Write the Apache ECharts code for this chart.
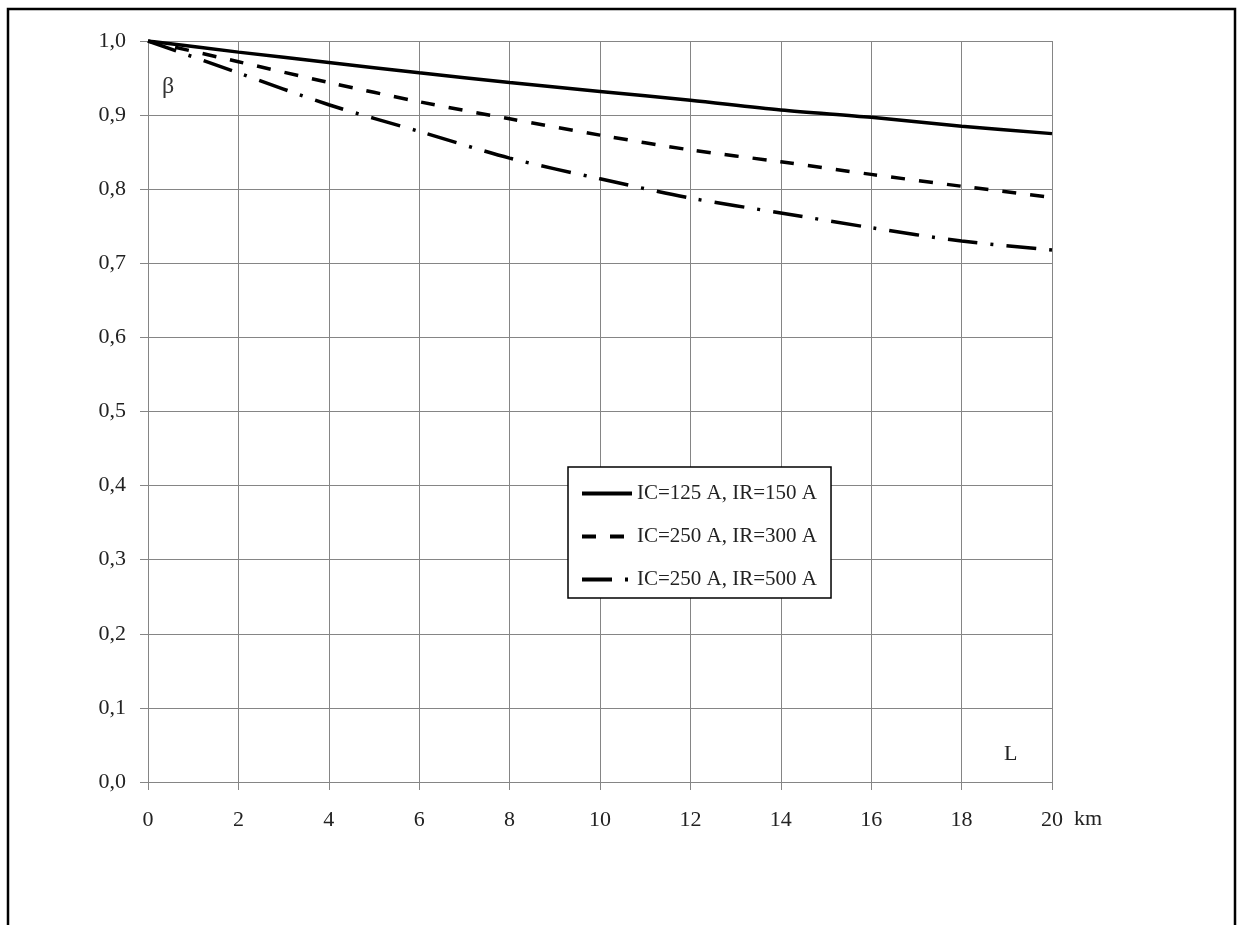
<!DOCTYPE html>
<html>
<head>
<meta charset="utf-8">
<script src="https://cdn.jsdelivr.net/npm/echarts@6/dist/echarts.min.js"></script>
<style>html,body{margin:0;padding:0;background:#fff;}#c{width:1237px;height:925px;}</style>
</head>
<body>
<div id="c"></div>
<script>
const distances = [0, 2, 4, 6, 8, 10, 12, 14, 16, 18, 20];
const seriesNames = ['IC=125 A, IR=150 A', 'IC=250 A, IR=300 A', 'IC=250 A, IR=500 A'];
const beta125_150 = [1.0, 0.985, 0.971, 0.957, 0.944, 0.932, 0.920, 0.907, 0.897, 0.885, 0.875];
const beta250_300 = [1.0, 0.972, 0.944, 0.918, 0.895, 0.873, 0.853, 0.837, 0.820, 0.804, 0.789];
const beta250_500 = [1.0, 0.957, 0.914, 0.878, 0.842, 0.814, 0.788, 0.768, 0.748, 0.730, 0.718];

const FONT = '"Liberation Serif", "DejaVu Serif", serif';
const pairs = arr => distances.map((d, i) => [d, arr[i]]);

const chart = echarts.init(document.getElementById('c'), null, {renderer: 'canvas'});
const lineBase = {type: 'line', symbol: 'none', smooth: 0.3, silent: true, animation: false};
chart.setOption({
  backgroundColor: '#fff',
  animation: false,
  grid: {left: 148, right: 185, top: 41, bottom: 143, containLabel: false},
  xAxis: {
    type: 'value', min: 0, max: 20, interval: 2,
    axisLine: {show: true, lineStyle: {color: '#858585', width: 1}},
    axisTick: {show: true, length: 8, lineStyle: {color: '#858585'}},
    splitLine: {show: true, lineStyle: {color: '#858585', width: 1}},
    axisLabel: {margin: 27, color: '#222', fontFamily: FONT, fontSize: 22}
  },
  yAxis: {
    type: 'value', min: 0, max: 1, interval: 0.1,
    axisLine: {show: true, lineStyle: {color: '#858585', width: 1}},
    axisTick: {show: true, length: 8, lineStyle: {color: '#858585'}},
    splitLine: {show: true, lineStyle: {color: '#858585', width: 1}},
    axisLabel: {margin: 22, color: '#222', fontFamily: FONT, fontSize: 22,
      formatter: v => v.toFixed(1).replace('.', ',')}
  },
  legend: {
    orient: 'vertical', left: 568, top: 467,
    backgroundColor: '#fff', borderColor: '#000', borderWidth: 1.5,
    padding: [16, 14, 8, 12], itemGap: 22, itemWidth: 50, itemHeight: 14,
    itemStyle: {opacity: 0},
    lineStyle: {width: 4, color: '#000'},
    textStyle: {fontFamily: FONT, fontSize: 21, color: '#222'},
    data: seriesNames
  },
  series: [
    Object.assign({}, lineBase, {name: seriesNames[0], data: pairs(beta125_150),
      lineStyle: {color: '#000', width: 3.5, type: 'solid'}, itemStyle: {color: '#000'}}),
    Object.assign({}, lineBase, {name: seriesNames[1], data: pairs(beta250_300),
      lineStyle: {color: '#000', width: 3.5, type: [14, 14], cap: 'butt'}, itemStyle: {color: '#000'}}),
    Object.assign({}, lineBase, {name: seriesNames[2], data: pairs(beta250_500),
      lineStyle: {color: '#000', width: 3.5, type: [30, 13, 3, 13], cap: 'butt'}, itemStyle: {color: '#000'}})
  ],
  graphic: [
    {type: 'rect', shape: {x: 8, y: 9, width: 1227, height: 940}, style: {fill: 'none', stroke: '#000', lineWidth: 2.5}, silent: true},
    {type: 'text', left: 162, top: 75, style: {text: 'β', font: '24px ' + FONT, fill: '#333'}},
    {type: 'text', left: 1004, top: 743, style: {text: 'L', font: '22px ' + FONT, fill: '#222'}},
    {type: 'text', left: 1074, top: 808, style: {text: 'km', font: '22px ' + FONT, fill: '#222'}}
  ]
});
</script>
</body>
</html>
